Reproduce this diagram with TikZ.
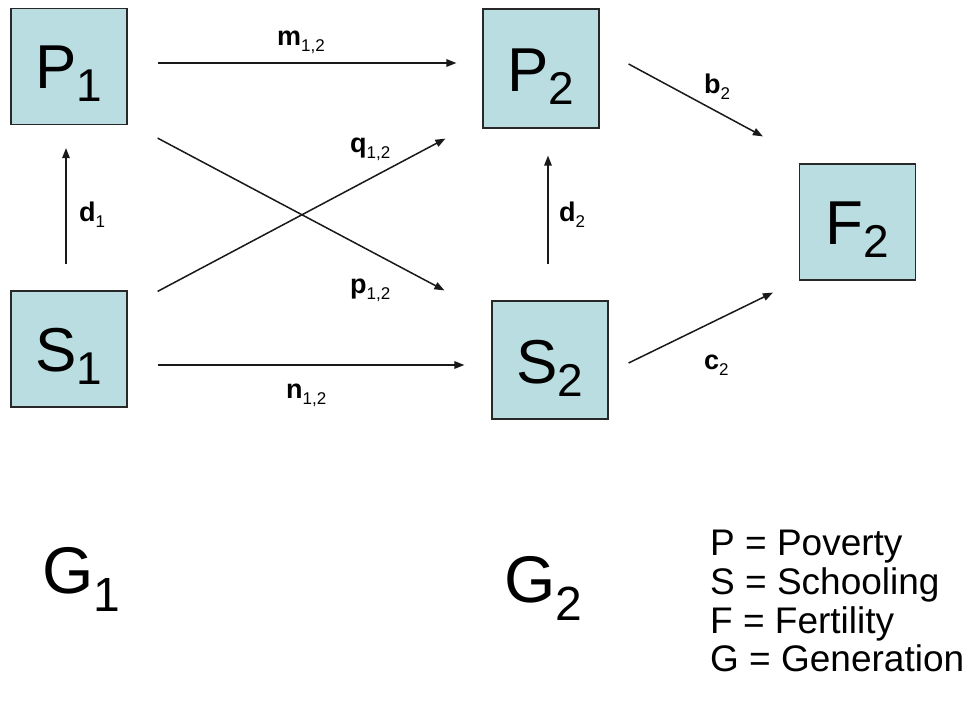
\documentclass[tikz,border=0pt]{standalone}
\usepackage{fontspec}
\setmainfont{Liberation Sans}
\usetikzlibrary{arrows.meta}
\definecolor{boxfill}{RGB}{185,221,224}
\definecolor{boxline}{RGB}{40,40,40}
\newcommand\lsub[1]{{\mdseries\fontsize{17}{17}\selectfont\raisebox{-6pt}{#1}}}
\newcommand\bsub[1]{\raisebox{-13pt}{\fontsize{46}{46}\selectfont #1}}
\newcommand\gsub[1]{\raisebox{-18pt}{\fontsize{48}{48}\selectfont #1}}
\begin{document}
\begin{tikzpicture}[x=1pt,y=-1pt,
  box/.style={draw=boxline,fill=boxfill,line width=1.2pt,minimum width=116pt,minimum height=116pt,inner sep=0pt},
  boxtext/.style={inner sep=0pt,font=\fontsize{62}{62}\selectfont},
  arr/.style={-{Triangle[length=10pt,width=7.5pt]},line width=1.5pt,black!90},
  lab/.style={anchor=base west,inner sep=0pt,font=\fontsize{27}{27}\selectfont\bfseries},
  gtext/.style={anchor=base west,inner sep=0pt,font=\fontsize{66}{66}\selectfont},
  legend/.style={anchor=base west,inner sep=0pt,font=\fontsize{37}{37}\selectfont}]
\useasboundingbox (0,0) rectangle (980,713);
% boxes
\node[box] (P1) at (69,66.5) {};
\node[box] (S1) at (69,349) {};
\node[box,minimum height=119pt] (P2) at (541,68.5) {};
\node[box,minimum height=118pt] (S2) at (550,360) {};
\node[box] (F2) at (857.5,222) {};
\node[boxtext] (tP1) at ([yshift=-7pt]P1.center) {P\bsub{1}};
\node[boxtext] (tS1) at ([yshift=-7pt]S1.center) {S\bsub{1}};
\node[boxtext] (tP2) at ([yshift=-8pt]P2.center) {P\bsub{2}};
\node[boxtext] (tS2) at ([yshift=-8pt]S2.center) {S\bsub{2}};
\node[boxtext] (tF2) at ([yshift=-8pt]F2.center) {F\bsub{2}};
% arrows
\draw[arr] ([xshift=30pt,yshift=3.5pt]P1.east) -- ([xshift=-26pt,yshift=5.5pt]P2.west);
\draw[arr] ([xshift=30pt,yshift=-13pt]P1.south east) -- ([xshift=-47pt,yshift=10pt]S2.north west);
\draw[arr] ([xshift=30pt,yshift=-1pt]S1.north east) -- ([xshift=-37pt,yshift=-10pt]P2.south west);
\draw[arr] ([xshift=30pt,yshift=-16pt]S1.east) -- ([xshift=-27pt,yshift=-5pt]S2.west);
\draw[arr] ([xshift=-3pt,yshift=26pt]S1.north) -- ([xshift=-3pt,yshift=-23pt]P1.south);
\draw[arr] ([xshift=-2pt,yshift=36pt]S2.north) -- ([xshift=7pt,yshift=-27pt]P2.south);
\draw[arr] ([xshift=29pt,yshift=4.5pt]P2.east) -- ([xshift=-36pt,yshift=27pt]F2.north west);
\draw[arr] ([xshift=20pt,yshift=-3pt]S2.east) -- ([xshift=-26pt,yshift=-12pt]F2.south west);
% arrow labels
\node[lab] (lm) at (277,45) {m\lsub{1,2}};
\node[lab] (lq) at (350,152) {q\lsub{1,2}};
\node[lab] (lp) at (350,293) {p\lsub{1,2}};
\node[lab] (ln) at (286,398) {n\lsub{1,2}};
\node[lab] (ld1) at (79,221) {d\lsub{1}};
\node[lab] (ld2) at (559,221) {d\lsub{2}};
\node[lab] (lb2) at (704,93) {b\lsub{2}};
\node[lab] (lc2) at (704,369) {c\lsub{2}};
% generation labels
\node[gtext] (G1) at (42,593) {G\gsub{1}};
\node[gtext] (G2) at (504,602) {G\gsub{2}};
% legend
\node[legend] (L1) at (710,555) {P = Poverty};
\node[legend] (L2) at (710,594) {S = Schooling};
\node[legend] (L3) at (710,633) {F = Fertility};
\node[legend] (L4) at (710,671) {G = Generation};
\end{tikzpicture}
\end{document}
